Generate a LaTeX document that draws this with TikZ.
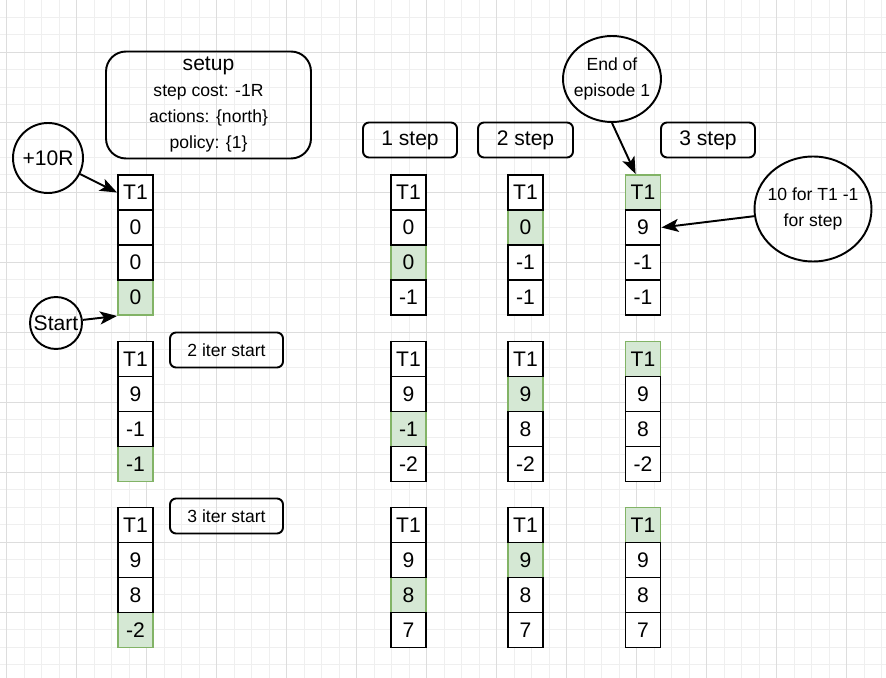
\documentclass[tikz,border=0pt]{standalone}
\usepackage{fontspec}
\setmainfont{Liberation Sans}
\usepackage{tikz}
\usetikzlibrary{arrows.meta,calc,shapes.geometric}
\definecolor{cellgreen}{HTML}{D5E8D4}
\definecolor{cellline}{HTML}{82B366}
\definecolor{gridminor}{HTML}{EFEFEF}
\definecolor{gridmajor}{HTML}{DDDDDD}
\tikzset{
	cellbox/.style={draw=black, fill=white, line width=1.1pt, minimum size=0.7cm, inner sep=0pt, font=\fontsize{12}{14.4}\selectfont},
	greencell/.style={cellbox, draw=cellline, fill=cellgreen},
	labelbox/.style={draw=black, line width=1.1pt, rounded corners=0.12cm, minimum height=0.7cm, inner sep=0pt},
	bubble/.style={draw=black, line width=1.1pt, ellipse, inner sep=-0.3cm, align=center},
	pointer/.style={line width=1.1pt, -{Stealth[length=0.34cm, width=0.26cm, inset=0.08cm]}}
}

\begin{document}
\begin{tikzpicture}[x=0.02cm, y=-0.02cm]
		%%%%% START %%%%%
		
		\useasboundingbox (0,0) rectangle (886,678);
		\fill[white] (0,0) rectangle (886,678);
		
		\foreach \gx in {0,...,50} \draw[gridminor, line width=0.5pt] ({6.7+17.5*\gx},0) -- ({6.7+17.5*\gx},678);
		\foreach \gy in {0,...,37} \draw[gridminor, line width=0.5pt] (0,{17.3+17.5*\gy}) -- (886,{17.3+17.5*\gy});
		\foreach \gx in {0,...,12} \draw[gridmajor, line width=0.5pt] ({6.7+70*\gx},0) -- ({6.7+70*\gx},678);
		\foreach \gy in {1,...,10} \draw[gridmajor, line width=0.5pt] (0,{-17.7+70*\gy}) -- (886,{-17.7+70*\gy});
		
		\node[draw=black, line width=1.1pt, rounded corners=0.4cm, minimum width=4.1cm, minimum height=2.12cm, align=center, font=\fontsize{10}{14.8}\selectfont] (setup) at (208.5,105) {{\fontsize{12}{14.8}\selectfont setup}\\step cost: -1R\\actions: \{north\}\\policy: \{1\}};
		
		\node[labelbox, minimum width=1.88cm, font=\fontsize{12}{14.4}\selectfont] (step1) at (410,140) {1 step};
		\node[labelbox, minimum width=1.9cm, font=\fontsize{12}{14.4}\selectfont] (step2) at (525.5,140) {2 step};
		\node[labelbox, minimum width=1.88cm, font=\fontsize{12}{14.4}\selectfont] (step3) at (708,140) {3 step};
		\node[labelbox, minimum width=2.26cm, font=\fontsize{10}{12}\selectfont] (iter2) at (226.5,350) {2 iter start};
		\node[labelbox, minimum width=2.26cm, font=\fontsize{10}{12}\selectfont] (iter3) at (226.5,516) {3 iter start};
		
		\node[bubble, minimum width=1.4cm, minimum height=1.4cm, font=\fontsize{12}{14.4}\selectfont] (r10) at (48,158) {+10R};
		\node[bubble, minimum width=1.04cm, minimum height=1.04cm, font=\fontsize{12}{14.4}\selectfont] (start) at (56,323) {Start};
		\node[bubble, minimum width=1.96cm, minimum height=1.72cm, font=\fontsize{10}{14.3}\selectfont] (endep) at (612,79) {End of\\episode 1};
		\node[bubble, minimum width=2.34cm, minimum height=2.1cm, font=\fontsize{10}{14.3}\selectfont] (tenfor) at (813,209) {10 for T1 -1\\for step};
		
		% first episode
		\node[greencell] (a14) at (135.5,297.5) {0};
		\node[cellbox] (a11) at (135.5,192.5) {T1};
		\node[cellbox] (a12) at (135.5,227.5) {0};
		\node[cellbox] (a13) at (135.5,262.5) {0};
		
		\node[greencell] (b13) at (408.5,262.5) {0};
		\node[cellbox] (b11) at (408.5,192.5) {T1};
		\node[cellbox] (b12) at (408.5,227.5) {0};
		\node[cellbox] (b14) at (408.5,297.5) {-1};
		
		\node[greencell] (c12) at (525.5,227.5) {0};
		\node[cellbox] (c11) at (525.5,192.5) {T1};
		\node[cellbox] (c13) at (525.5,262.5) {-1};
		\node[cellbox] (c14) at (525.5,297.5) {-1};
		
		\node[greencell] (d11) at (643,192.5) {T1};
		\node[cellbox] (d12) at (643,227.5) {9};
		\node[cellbox] (d13) at (643,262.5) {-1};
		\node[cellbox] (d14) at (643,297.5) {-1};
		
		% second episode
		\node[greencell] (a24) at (135.5,464) {-1};
		\node[cellbox] (a21) at (135.5,359) {T1};
		\node[cellbox] (a22) at (135.5,394) {9};
		\node[cellbox] (a23) at (135.5,429) {-1};
		
		\node[greencell] (b23) at (408.5,429) {-1};
		\node[cellbox] (b21) at (408.5,359) {T1};
		\node[cellbox] (b22) at (408.5,394) {9};
		\node[cellbox] (b24) at (408.5,464) {-2};
		
		\node[greencell] (c22) at (525.5,394) {9};
		\node[cellbox] (c21) at (525.5,359) {T1};
		\node[cellbox] (c23) at (525.5,429) {8};
		\node[cellbox] (c24) at (525.5,464) {-2};
		
		\node[greencell] (d21) at (643,359) {T1};
		\node[cellbox] (d22) at (643,394) {9};
		\node[cellbox] (d23) at (643,429) {8};
		\node[cellbox] (d24) at (643,464) {-2};
		
		% third episode
		\node[greencell] (a34) at (135.5,630) {-2};
		\node[cellbox] (a31) at (135.5,525) {T1};
		\node[cellbox] (a32) at (135.5,560) {9};
		\node[cellbox] (a33) at (135.5,595) {8};
		
		\node[greencell] (b33) at (408.5,595) {8};
		\node[cellbox] (b31) at (408.5,525) {T1};
		\node[cellbox] (b32) at (408.5,560) {9};
		\node[cellbox] (b34) at (408.5,630) {7};
		
		\node[greencell] (c32) at (525.5,560) {9};
		\node[cellbox] (c31) at (525.5,525) {T1};
		\node[cellbox] (c33) at (525.5,595) {8};
		\node[cellbox] (c34) at (525.5,630) {7};
		
		\node[greencell] (d31) at (643,525) {T1};
		\node[cellbox] (d32) at (643,560) {9};
		\node[cellbox] (d33) at (643,595) {8};
		\node[cellbox] (d34) at (643,630) {7};
		
		\draw[pointer] (r10) -- (a11.west);
		\draw[pointer] (start) -- (a14.south west);
		\draw[pointer] (endep.south) -- ($(d11.north west)!0.3!(d11.north east)$);
		\draw[pointer] (tenfor) -- (d12.east);
		
		%%%%% END %%%%%
\end{tikzpicture}
\end{document}
